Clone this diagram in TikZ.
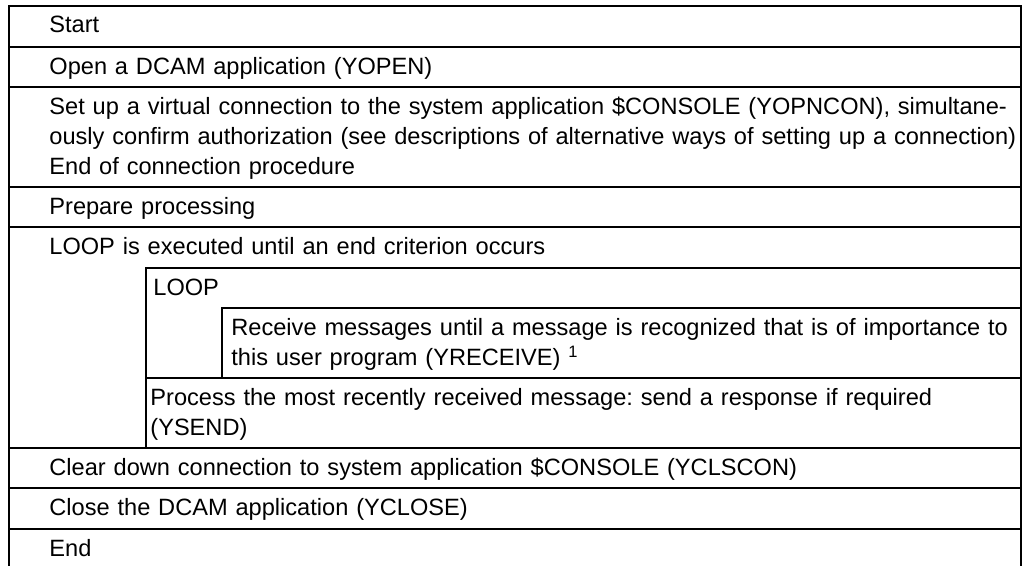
\documentclass[tikz,border=0pt]{standalone}
\usepackage{fontspec}
\setmainfont{Liberation Sans}
\frenchspacing
\tikzset{
  every node/.style={font=\fontsize{11.8}{15}\selectfont},
  cell/.style={anchor=base west, inner sep=0pt, text width=490pt, align=left},
  rule/.style={line width=1pt, line cap=rect}
}

\begin{document}
\begin{tikzpicture}[x=0.5pt,y=-0.5pt]
  \useasboundingbox (0,0) rectangle (1029,566);

  \draw[rule] (9,566) -- (9,6) -- (1020.5,6) -- (1020.5,566);
  \foreach \y in {47,87,187,227,448,488,529}
    \draw[rule] (9,\y) -- (1020.5,\y);
  \draw[rule] (146,448) -- (146,268) -- (1020.5,268);
  \draw[rule] (222,378) -- (222,308) -- (1020.5,308);
  \draw[rule] (146,378) -- (1020.5,378);

  \node[cell] (start) at (49,33) {Start};
  \node[cell] (open) at (49,75) {Open a DCAM application (YOPEN)};
  \node[cell] (setup) at (49,115) {Set up a virtual connection to the system application \$CONSOLE (YOPNCON), simultane-\\
    ously confirm authorization (see descriptions of alternative ways of setting up a connection)\\
    End of connection procedure};
  \node[cell] (prepare) at (49,215) {Prepare processing};
  \node[cell] (until) at (49,255) {LOOP is executed until an end criterion occurs};
  \node[cell] (loop) at (153,296) {LOOP};
  \node[cell] (receive) at (231,336) {Receive messages until a message is recognized that is of importance to\\
    this user program (YRECEIVE) \textsuperscript{1}};
  \node[cell] (process) at (150,406) {Process the most recently received message: send a response if required\\
    (YSEND)};
  \node[cell] (clear) at (49,476) {Clear down connection to system application \$CONSOLE (YCLSCON)};
  \node[cell] (close) at (49,516) {Close the DCAM application (YCLOSE)};
  \node[cell] (stop) at (49,557) {End};
\end{tikzpicture}
\end{document}
